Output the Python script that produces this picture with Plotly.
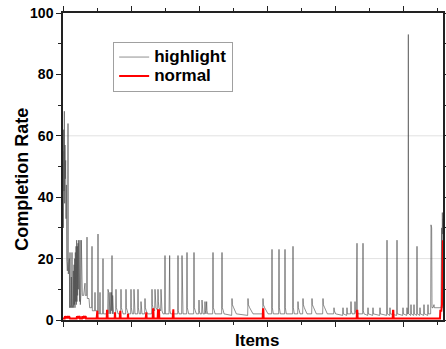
import plotly.graph_objects as go

# ---- data (item index, completion rate) ----
highlight_items = [
    0, 1, 2, 3, 4, 5, 6, 7, 8, 9, 10, 11, 12, 13, 14, 15, 16, 17, 18, 19, 20, 21,
    22, 23, 24, 25, 26, 27, 28, 29, 30, 31, 32, 33, 34, 35, 36, 37, 38, 39, 40, 41,
    42, 43, 44, 45, 46, 47, 48, 49, 50, 51, 52, 53, 54, 55, 56, 57,
    58, 62, 66, 67, 71, 72, 73, 78, 80, 86, 87, 88, 95, 96, 97, 104, 105, 106, 110,
    111, 112, 119, 120, 121, 134,
    135, 136, 137, 138, 139, 140, 141, 142, 143, 144, 145, 146, 147, 148, 149, 150,
    151, 152, 153,
    158, 159, 160, 163, 165, 173, 174, 175, 178, 180, 188, 189, 190, 193, 195, 203,
    204, 205, 208, 212, 213, 214, 216, 224, 225, 226, 229, 233, 234, 235, 237, 245,
    246, 247, 250, 253,
    266, 267, 268, 270, 275, 276, 277, 279, 284, 285, 286, 288, 293, 294, 295, 297,
    300, 305, 306, 307,
    318, 320, 321, 323, 344, 345, 346, 348, 356, 357, 358, 360, 371, 372, 373, 375,
    377, 392, 393, 394, 397, 400, 407, 408, 409, 411, 416, 417, 418, 420, 425, 426,
    427, 429, 431, 432, 434,
    449, 450, 451, 454, 456, 476, 477, 478, 481, 483, 506, 507, 508, 512, 515, 520,
    554, 555, 556, 560, 565, 570, 599, 600, 601, 605, 610, 615,
    626, 627, 628, 631, 647, 648, 649, 652, 665, 666, 667, 670, 689, 690, 691, 694,
    704, 705, 706, 709, 711, 719, 720, 721, 724, 728, 732,
    746, 747, 748, 752, 756, 760, 779, 780, 781, 785, 789, 793, 812, 813, 814, 818,
    839, 840, 841, 851, 852, 853, 863, 864, 865, 867, 875, 876, 877, 880, 882, 883,
    885, 899, 900, 901, 903, 914, 915, 916, 929, 930, 931, 950, 951, 952, 971, 972,
    973, 980, 981, 982, 1001, 1002, 1003, 1019, 1020, 1021, 1031, 1032, 1033, 1035,
    1036, 1037,
    1043, 1044, 1045, 1052, 1053, 1054, 1061, 1062, 1063, 1070, 1071, 1072, 1082,
    1083, 1084, 1094, 1095, 1096, 1103, 1104, 1105, 1106, 1107, 1110, 1113, 1114,
    1125, 1130, 1134, 1136, 1137, 1138, 1139, 1140,
]
highlight_values = [
    55, 30, 62, 42, 68, 38, 57, 46, 52, 33, 44, 20, 18, 16, 19, 64, 15, 18, 6, 20, 4, 22,
    4, 12, 5, 14, 4, 22, 4, 13, 5, 16, 4, 18, 5, 20, 4, 22, 6, 24, 5, 26,
    6, 24, 8, 25, 10, 26, 8, 22, 6, 26, 5, 20, 9, 26, 8, 9,
    8, 8, 12, 8, 8, 27, 7, 7, 4, 4, 24, 3, 3, 9, 3, 3, 28, 2, 2,
    9, 2, 2, 20, 2, 2,
    10, 3, 9, 2, 8, 3, 9, 2, 8, 2, 9, 3, 21, 2, 8, 2,
    7, 2, 2,
    2, 10, 4, 3, 2, 2, 10, 4, 3, 2, 2, 10, 4, 3, 2, 2,
    10, 4, 2, 2, 10, 3, 2, 2, 10, 4, 2, 2, 6, 3, 2, 2,
    7, 4, 3, 2,
    2, 10, 5, 4, 3, 10, 5, 4, 3, 10, 6, 4, 3, 10, 5, 3,
    2, 2, 21, 2,
    2, 21, 3, 2, 2, 21, 3, 2, 2, 21, 3, 2, 2, 22, 4, 3,
    2, 2, 22, 4, 3, 2, 2, 6.5, 3, 2, 2, 6.5, 3, 2, 2, 6,
    3, 2, 6, 3, 2,
    2, 22, 4, 3, 2, 2, 22, 4, 3, 2, 1.5, 7, 5, 4, 3, 2,
    1.5, 7, 5, 4, 3, 2, 2, 7, 5, 4, 3, 2,
    2, 23, 4, 2, 2, 23, 4, 2, 2, 23, 4, 2, 2, 24, 4, 2,
    2, 6, 4, 3, 2, 2, 7, 5, 4, 3, 2,
    2, 7, 5, 4, 3, 2, 2, 7, 5, 4, 3, 2, 2, 4, 3, 2,
    1.5, 4, 2, 1.5, 4, 2, 2, 6, 3, 2, 2, 6, 3, 2, 25, 3,
    2, 2, 25, 3, 2, 1.5, 4, 2, 1.5, 4, 2, 1.5, 4, 2, 1.5, 26,
    2, 1.5, 4, 2, 1.5, 26, 2, 1.5, 4, 2, 1.5, 4, 2, 2,
    93, 2,
    1.5, 5, 2, 1.5, 5, 2, 1.5, 24, 2, 1.5, 4, 2, 1.5,
    5, 2, 1.5, 5, 2, 2, 31, 3, 30, 4, 4, 5, 4,
    4, 4, 4, 30, 4, 35, 28, 33,
]

normal_items = [
    0, 5, 6, 7, 8, 9, 10, 11, 12, 13, 14, 15, 16, 17, 18, 19, 20, 21,
    41, 42, 43, 45, 46, 50, 51, 57, 58, 59, 63, 64, 68, 69,
    101, 102, 103, 104, 131, 132, 133, 134, 155, 156, 157, 170, 171, 172, 173,
    194, 195, 196, 248, 249, 250, 251, 269, 270, 271, 272, 284, 285, 286, 288, 289,
    329, 330, 331, 332, 599, 600, 601, 602, 881, 882, 883, 884, 989, 990, 991, 992,
    1131, 1132, 1135, 1137, 1138, 1139, 1140,
]
normal_values = [
    0.5, 0.5, 1.3, 0.5, 1.3, 0.5, 1.3, 0.5, 1.3, 0.5, 1.3, 0.5, 1.3, 0.5, 1.3, 0.5, 1.3, 0.5,
    0.5, 1.3, 0.5, 1.3, 0.5, 1.3, 0.5, 0.5, 1.3, 0.5, 1.3, 0.5, 1.3, 0.5,
    0.5, 3, 3, 0.5, 0.5, 3, 3, 0.5, 0.5, 2.5, 0.5, 0.5, 3, 3, 0.5,
    0.5, 2, 0.5, 0.5, 2.5, 2.5, 0.5, 0.5, 3.5, 3.5, 0.5, 0.5, 3.5, 0.5, 3.5, 0.5,
    0.5, 3.5, 3.5, 0.5, 0.5, 3.5, 3.5, 0.5, 0.5, 3, 3, 0.5, 0.5, 3, 3, 0.5,
    0.5, 3, 3, 5, 14, 26, 26,
]

series_names = ["highlight", "normal"]
grid_levels = [20, 60]
x_title = "Items"
y_title = "Completion Rate"

FONT = "Liberation Sans, Arial, Helvetica, sans-serif"


def legend_label(text):
    return "<span style='font-size:17px'>" + text + "</span>"


fig = go.Figure()
fig.add_trace(go.Scatter(
    x=highlight_items, y=highlight_values, mode="lines",
    name=legend_label(series_names[0]),
    line=dict(color="#444444", width=0.6),
))
fig.add_trace(go.Scatter(
    x=normal_items, y=normal_values, mode="lines",
    name=legend_label(series_names[1]),
    line=dict(color="#ff0000", width=2),
))

for g in grid_levels:
    fig.add_shape(type="line", xref="paper", x0=0, x1=1, yref="y", y0=g, y1=g,
                  line=dict(color="#e2e2e2", width=1), layer="below")

fig.add_annotation(text=x_title, xref="paper", yref="paper", x=0.51, y=0,
                   xanchor="center", yanchor="middle", yshift=-20, showarrow=False,
                   font=dict(family=FONT, size=17, color="black", weight="bold"))
fig.add_annotation(text=y_title, xref="paper", yref="paper", x=-0.108, y=0.46,
                   xanchor="center", yanchor="middle", textangle=-90, showarrow=False,
                   font=dict(family=FONT, size=18, color="black", weight="bold"))

fig.update_layout(
    width=446, height=349,
    margin=dict(l=63, r=3, t=13, b=29),
    paper_bgcolor="white", plot_bgcolor="white",
    font=dict(family=FONT, color="black"),
    showlegend=True,
    legend=dict(
        x=0.132, y=0.907, xanchor="left", yanchor="top",
        bgcolor="white", bordercolor="#a0a0a0", borderwidth=1,
        font=dict(family=FONT, size=12, color="black", weight="bold"),
        tracegroupgap=0,
    ),
)
fig.update_xaxes(
    range=[0, 1140], showgrid=False, zeroline=False, automargin=False,
    showline=True, linecolor="#222", linewidth=1.5, mirror="ticks",
    ticks="outside", ticklen=5, tickcolor="#222", tick0=0, dtick=204,
    showticklabels=False,
    minor=dict(ticks="outside", ticklen=3, dtick=102, tick0=0, tickcolor="#222"),
)
fig.update_yaxes(
    range=[0, 100], showgrid=False, zeroline=False, automargin=False,
    showline=True, linecolor="#222", linewidth=1.5, mirror="ticks",
    ticks="outside", ticklen=5, tickcolor="#222", tick0=0, dtick=20,
    tickfont=dict(family=FONT, size=14, color="black", weight="bold"),
    minor=dict(ticks="outside", ticklen=3, dtick=10, tickcolor="#222"),
)

fig.write_html(
    "out.html",
    config={"displayModeBar": False},
    post_script="document.body.style.margin='0';document.body.style.padding='0';",
)
